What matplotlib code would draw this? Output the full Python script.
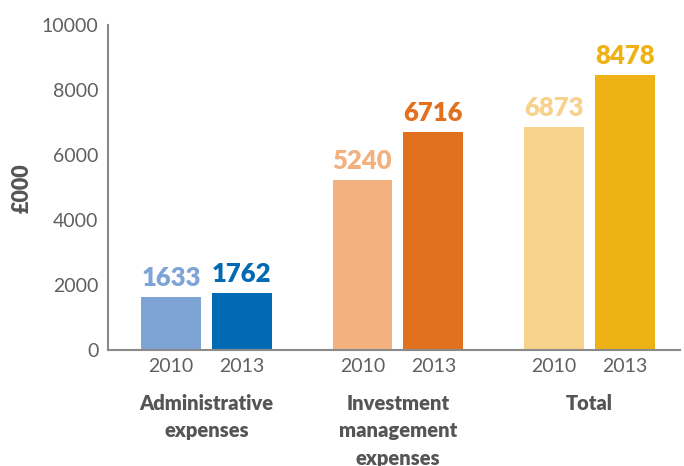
import matplotlib
matplotlib.use("Agg")
import matplotlib.pyplot as plt
import numpy as np

plt.rcParams['font.family'] = ['Lato', 'DejaVu Sans']

categories = ['Administrative\nexpenses', 'Investment\nmanagement\nexpenses', 'Total']
years = ['2010', '2013']
values_2010 = [1633, 5240, 6873]
values_2013 = [1762, 6716, 8478]
colors_2010 = ['#7ea3d5', '#f2b17f', '#f6d28d']
colors_2013 = ['#006ab4', '#e2711f', '#efb214']

fig = plt.figure(figsize=(6.84, 4.66), dpi=100)
ax = fig.add_axes([0.158, 0.249, 0.836, 0.697])

x = np.arange(len(categories))
w = 0.313
off = 0.185

for xs, vals, cols in [(x - off, values_2010, colors_2010), (x + off, values_2013, colors_2013)]:
    ax.bar(xs, vals, width=w, color=cols, zorder=2)
    for xi, v, c in zip(xs, vals, cols):
        ax.annotate(str(v), (xi, v), xytext=(0, 5), textcoords='offset points',
                    ha='center', va='bottom', fontsize=18.5, fontweight='heavy', color=c)

ax.set_xlim(-0.514, 2.473)
ax.set_ylim(0, 10000)
ax.set_yticks(np.arange(0, 10001, 2000))
ax.set_xticks(np.concatenate([x - off, x + off]))
ax.set_xticklabels([years[0]] * 3 + [years[1]] * 3)
ax.tick_params(length=0, labelsize=14, labelcolor='#606060')
ax.tick_params(axis='x', pad=6)
ax.tick_params(axis='y', pad=7)

for s in ['top', 'right']:
    ax.spines[s].set_visible(False)
for s in ['left', 'bottom']:
    ax.spines[s].set_color('#8a8a8a')
    ax.spines[s].set_linewidth(1.5)

for xi, name in zip(x, categories):
    ax.text(xi, -0.135, name, transform=ax.get_xaxis_transform(), ha='center', va='top',
            fontsize=14.5, fontweight='heavy', color='#555555', linespacing=1.53)

fig.text(0.032, 0.597, '£000', rotation=90, ha='center', va='center',
         fontsize=15.5, fontweight='heavy', color='#555555')

fig.savefig('out.png', dpi=100)
